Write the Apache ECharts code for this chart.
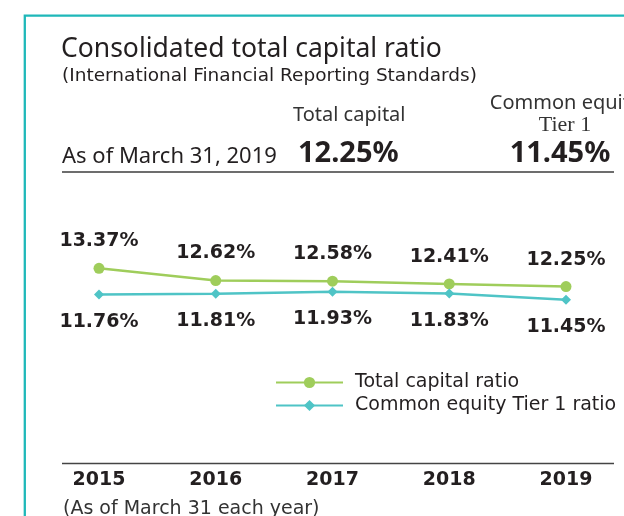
<!DOCTYPE html>
<html>
<head>
<meta charset="utf-8">
<script src="https://cdn.jsdelivr.net/npm/echarts@6/dist/echarts.min.js"></script>
<style>
  html, body { margin: 0; padding: 0; background: #fff; }
  #main { width: 624px; height: 516px; }
</style>
</head>
<body>
<div id="main"></div>
<script>
// data
const years = ['2015', '2016', '2017', '2018', '2019'];
const totalCapitalRatio = [13.37, 12.62, 12.58, 12.41, 12.25];
const cet1Ratio = [11.76, 11.81, 11.93, 11.83, 11.45];
const seriesNames = ['Total capital ratio', 'Common equity Tier 1 ratio'];

const ink = '#231f20';
const green = '#9fcd5b';
const cyan = '#4fc4c6';
const teal = '#1fb8b9';

const pct = v => v.toFixed(2) + '%';
const lastTotal = pct(totalCapitalRatio[totalCapitalRatio.length - 1]);
const lastCet1 = pct(cet1Ratio[cet1Ratio.length - 1]);

const myChart = echarts.init(document.getElementById('main'), null, { renderer: 'canvas' });

const option = {
  animation: false,
  grid: {
    left: 99,
    right: 58,
    top: 258,
    bottom: 209,
    outerBoundsMode: 'none'
  },
  xAxis: {
    type: 'category',
    data: years,
    boundaryGap: false,
    axisLine: { show: false },
    axisTick: { show: false },
    axisLabel: {
      margin: 164,
      color: ink,
      fontFamily: 'DejaVu Sans',
      fontWeight: 'bold',
      fontSize: 19
    }
  },
  yAxis: {
    type: 'value',
    min: 11,
    max: 14,
    show: false,
    splitLine: { show: false }
  },
  legend: {
    orient: 'vertical',
    left: 275,
    top: 373,
    padding: 0,
    itemWidth: 67,
    itemHeight: 14,
    itemGap: 4,
    data: seriesNames,
    textStyle: {
      color: ink,
      fontFamily: 'DejaVu Sans',
      fontSize: 19,
      lineHeight: 19,
      padding: [0, 0, 0, 7]
    }
  },
  graphic: [
    // teal frame, runs off the right and bottom
    { type: 'rect', shape: { x: 24.8, y: 15.7, width: 1000, height: 1000 },
      style: { fill: null, stroke: teal, lineWidth: 2.3 } },
    { type: 'text', x: 61, y: 49, style: { text: 'Consolidated total capital ratio',
      font: '26.5px "Noto Sans"', fill: ink, verticalAlign: 'middle' } },
    { type: 'text', x: 62, y: 76, style: { text: '(International Financial Reporting Standards)',
      font: '18.5px "DejaVu Sans"', fill: ink, verticalAlign: 'middle' } },
    { type: 'text', x: 293, y: 115, style: { text: 'Total capital',
      font: '20px "Noto Sans"', fill: '#333', verticalAlign: 'middle' } },
    { type: 'text', x: 565, y: 103, style: { text: 'Common equity',
      font: '20px "Noto Sans"', fill: '#333', align: 'center', verticalAlign: 'middle' } },
    { type: 'text', x: 565, y: 125, style: { text: 'Tier 1',
      font: '22px "Liberation Serif"', fill: '#333', align: 'center', verticalAlign: 'middle' } },
    { type: 'text', x: 62, y: 157, style: { text: 'As of March 31, 2019',
      font: '22px "Noto Sans"', fill: ink, verticalAlign: 'middle' } },
    { type: 'text', x: 298, y: 154, style: { text: lastTotal,
      font: 'bold 29px "Noto Sans"', fill: ink, verticalAlign: 'middle' } },
    { type: 'text', x: 560, y: 154, style: { text: lastCet1,
      font: 'bold 29px "Noto Sans"', fill: ink, align: 'center', verticalAlign: 'middle' } },
    { type: 'line', shape: { x1: 62, y1: 172, x2: 614, y2: 172 },
      style: { stroke: '#3c3c3c', lineWidth: 1.5 } },
    // base rule above the years
    { type: 'line', shape: { x1: 62, y1: 463.5, x2: 614, y2: 463.5 },
      style: { stroke: '#444', lineWidth: 1.5 } },
    { type: 'text', x: 63, y: 509, style: { text: '(As of March 31 each year)',
      font: '19px "DejaVu Sans"', fill: '#333', verticalAlign: 'middle' } }
  ],
  series: [
    {
      name: seriesNames[0],
      type: 'line',
      data: totalCapitalRatio,
      symbol: 'circle',
      symbolSize: 11,
      lineStyle: { color: green, width: 2.5 },
      itemStyle: { color: green },
      label: {
        show: true,
        position: 'top',
        distance: 12,
        color: ink,
        fontFamily: 'DejaVu Sans',
        fontWeight: 'bold',
        fontSize: 19,
        formatter: p => pct(p.value)
      }
    },
    {
      name: seriesNames[1],
      type: 'line',
      data: cet1Ratio,
      symbol: 'diamond',
      symbolSize: 10,
      lineStyle: { color: cyan, width: 2.5 },
      itemStyle: { color: cyan },
      label: {
        show: true,
        position: 'bottom',
        distance: 13,
        color: ink,
        fontFamily: 'DejaVu Sans',
        fontWeight: 'bold',
        fontSize: 19,
        formatter: p => pct(p.value)
      }
    }
  ]
};

myChart.setOption(option);
</script>
</body>
</html>
